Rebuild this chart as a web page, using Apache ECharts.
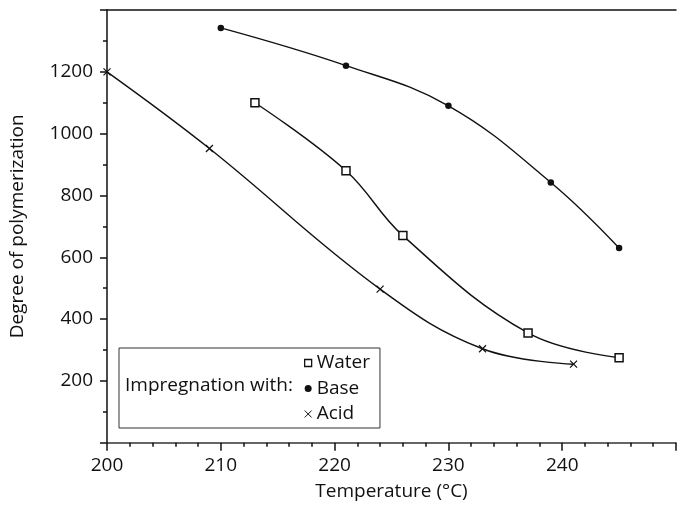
<!DOCTYPE html>
<html lang="en">
  <head>
    <meta charset="UTF-8" />
    <title>degree of polymerization</title>
    <script src="https://cdn.jsdelivr.net/npm/echarts@6/dist/echarts.min.js"></script>
    <style>
      html, body { margin: 0; padding: 0; background: #fff; }
      #dpChart { width: 679px; height: 506px; }
    </style>
  </head>
  <body>
    <div id="dpChart"></div>
    <script>
      // values
      var waterTemp = [213, 221, 226, 237, 245];
      var waterDP = [1100, 880, 670, 355, 275];
      var baseTemp = [210, 221, 230, 239, 245];
      var baseDP = [1342, 1220, 1090, 842, 630];
      var acidTemp = [200, 209, 224, 233, 241];
      var acidDP = [1200, 952, 497, 304, 254];
      var seriesNames = ['Water', 'Base', 'Acid'];

      var chartFont = 'Open Sans';
      var crossPath = 'path://M0,0L10,10M10,0L0,10';

      function pairs(xs, ys) {
        var rtnAry = [];
        for (var i = 0; i < xs.length; i++) {
          rtnAry.push([xs[i], ys[i]]);
        }
        return rtnAry;
      }

      var chart = echarts.init(document.getElementById('dpChart'));

      var lineBase = {
        type: 'line',
        smooth: 0.4,
        animation: false,
        lineStyle: { color: '#111', width: 1.4 }
      };

      var chartOption = {
        animation: false,
        grid: { left: 104, top: 10, width: 581.5, bottom: 63.3 },
        legend: {
          orient: 'vertical',
          left: 119,
          top: 348,
          padding: [5, 10, 4, 185],
          itemGap: 5.5,
          itemWidth: 7,
          itemHeight: 7,
          borderColor: '#333',
          borderWidth: 1,
          selectedMode: false,
          textStyle: { color: '#111', fontSize: 19, fontFamily: chartFont, lineHeight: 20 },
          data: [
            { name: 'Water', icon: 'rect', itemStyle: { color: '#fff', borderColor: '#111', borderWidth: 1.3 } },
            { name: 'Base', icon: 'circle', itemStyle: { color: '#111', borderWidth: 0 } },
            { name: 'Acid', icon: crossPath, itemStyle: { color: 'transparent', borderColor: '#111', borderWidth: 1 } }
          ]
        },
        graphic: [
          {
            type: 'text',
            left: 125,
            top: 376,
            style: { text: 'Impregnation with:', fill: '#111', font: '19px "' + chartFont + '"' }
          }
        ],
        xAxis: [
          {
            type: 'value',
            min: 200,
            max: 250,
            interval: 10,
            name: 'Temperature (°C)',
            nameLocation: 'middle',
            nameGap: 39,
            nameTextStyle: { color: '#111', fontSize: 19, fontFamily: chartFont },
            splitLine: { show: false },
            axisLine: { lineStyle: { color: '#333', width: 1.5 } },
            axisTick: { show: true, length: 8, lineStyle: { color: '#111', width: 1.5 } },
            minorTick: { show: true, splitNumber: 5, length: 4, lineStyle: { color: '#111', width: 1.5 } },
            axisLabel: {
              color: '#111',
              fontSize: 19,
              fontFamily: chartFont,
              margin: 13,
              formatter: function (v) { return v >= 250 ? '' : String(v); }
            }
          },
          {
            type: 'value',
            position: 'top',
            min: 200,
            max: 250,
            axisLine: { show: true, onZero: false, lineStyle: { color: '#111', width: 1.5 } },
            axisTick: { show: false },
            axisLabel: { show: false },
            splitLine: { show: false }
          }
        ],
        yAxis: {
          type: 'value',
          min: 0,
          max: 1400,
          interval: 200,
          name: 'Degree of polymerization',
          nameLocation: 'middle',
          nameGap: 80,
          nameTextStyle: { color: '#111', fontSize: 19, fontFamily: chartFont },
          splitLine: { show: false },
          axisLine: { show: true, lineStyle: { color: '#111', width: 1.5 } },
          axisTick: { show: true, length: 7, lineStyle: { color: '#111', width: 1.5 } },
          minorTick: { show: true, splitNumber: 2, length: 4, lineStyle: { color: '#111', width: 1.5 } },
          axisLabel: {
            color: '#111',
            fontSize: 19,
            fontFamily: chartFont,
            margin: 14,
            formatter: function (v) { return v === 0 || v === 1400 ? '' : String(v); }
          }
        },
        series: [
          Object.assign({}, lineBase, {
            name: seriesNames[0],
            symbol: 'rect',
            symbolSize: 8,
            itemStyle: { color: '#fff', borderColor: '#111', borderWidth: 1.5 },
            data: pairs(waterTemp, waterDP)
          }),
          Object.assign({}, lineBase, {
            name: seriesNames[1],
            symbol: 'circle',
            symbolSize: 6.5,
            itemStyle: { color: '#111', borderColor: '#111', borderWidth: 0 },
            data: pairs(baseTemp, baseDP)
          }),
          Object.assign({}, lineBase, {
            name: seriesNames[2],
            symbol: crossPath,
            symbolSize: 7,
            itemStyle: { color: 'transparent', borderColor: '#111', borderWidth: 1.2 },
            data: pairs(acidTemp, acidDP)
          })
        ]
      };

      chart.setOption(chartOption);
    </script>
  </body>
</html>
